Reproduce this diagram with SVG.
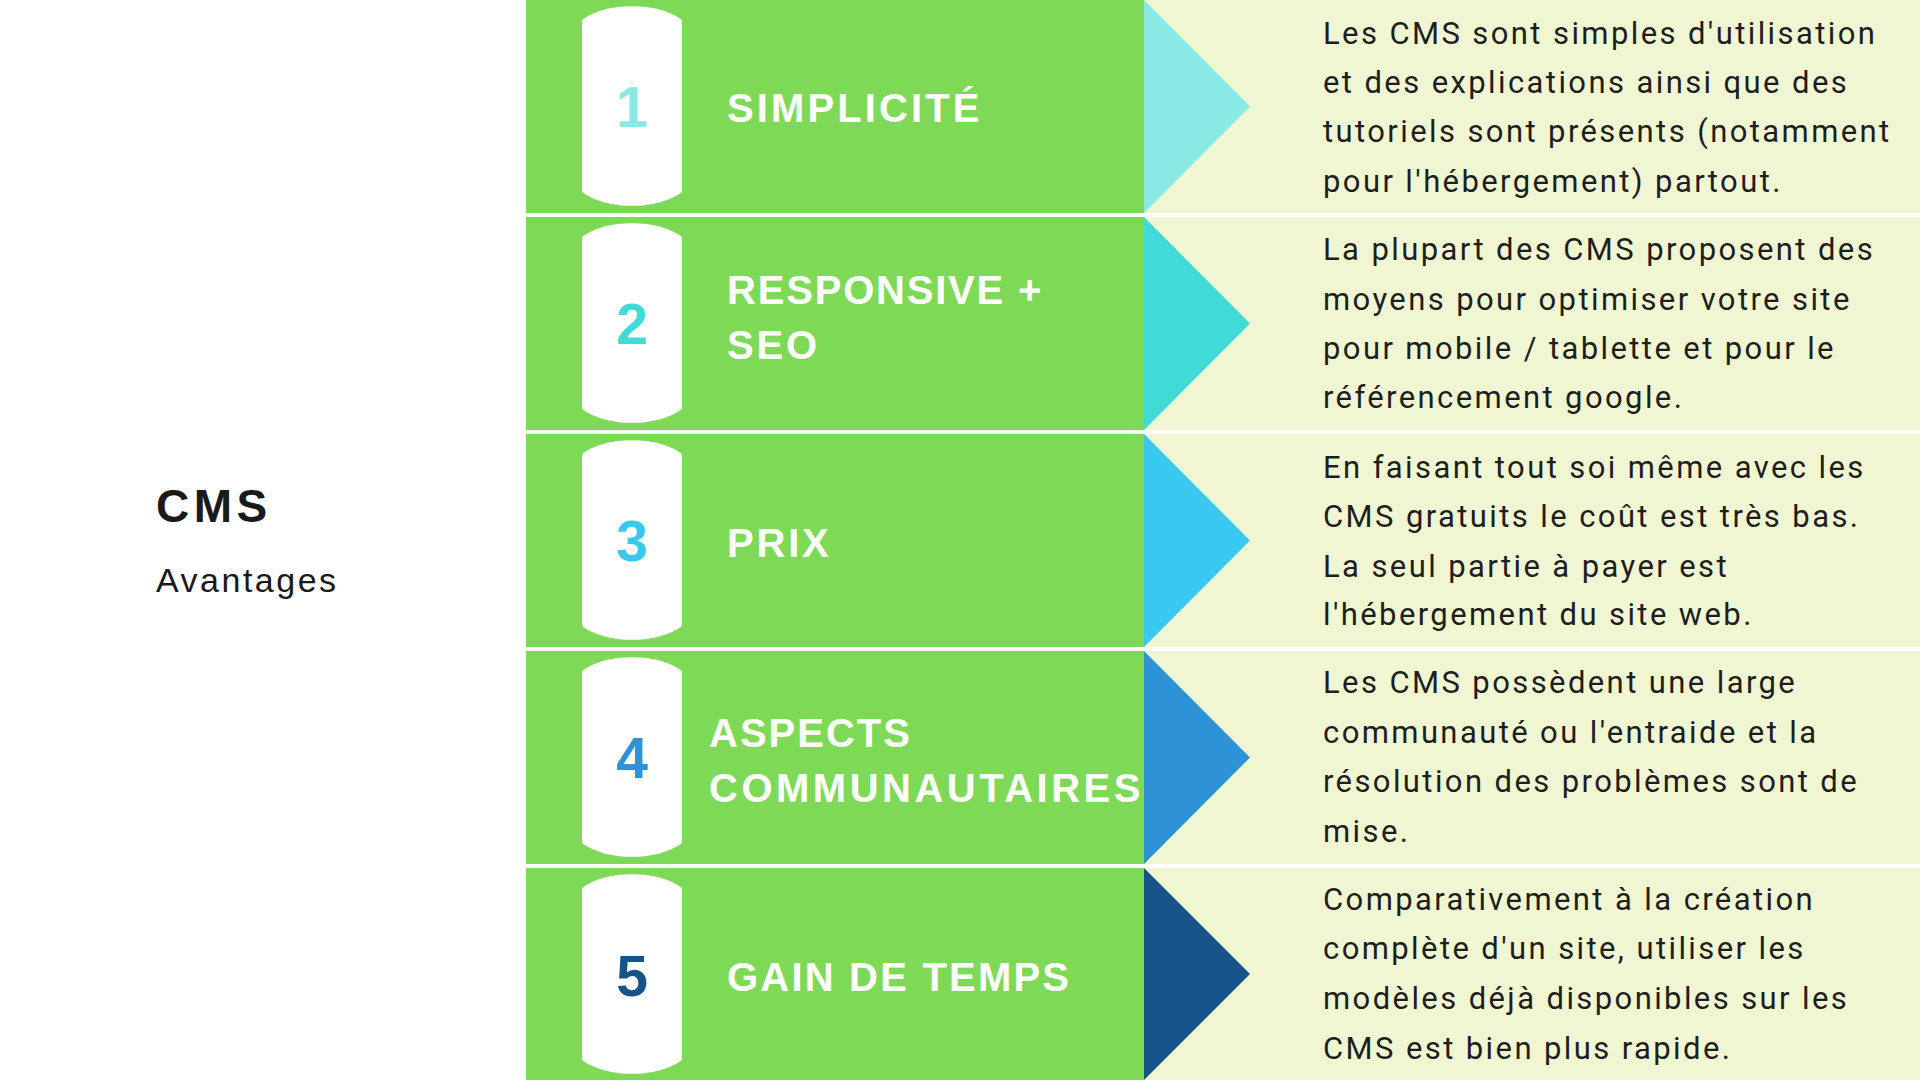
<svg xmlns="http://www.w3.org/2000/svg" width="1920" height="1080" viewBox="0 0 1920 1080">
<defs>
<style>
.green{fill:#7ED957}
.panel{fill:#F0F6D2}
.pill{fill:#FFFFFF}
.num{font-family:"Liberation Sans",Arial,sans-serif;font-weight:bold;font-size:57px;text-anchor:middle}
.lab{font-family:"Liberation Sans",Arial,sans-serif;font-weight:bold;font-size:40px;fill:#FFFFFF;letter-spacing:2.8px}
.desc{font-family:Roboto,"Liberation Sans",sans-serif;font-size:31px;fill:#1E1E1E;letter-spacing:2.4px}
.title{font-family:"Liberation Sans",Arial,sans-serif;font-weight:bold;font-size:46px;fill:#1A1A1A;letter-spacing:4.5px}
.sub{font-family:"Liberation Sans",Arial,sans-serif;font-size:34px;fill:#1A1A1A;letter-spacing:2.5px}
</style>
<path id="pillShape" d="M582,20 A60,31 0 0 1 682,20 L682,192 A60,31 0 0 1 582,192 Z"/>
</defs>
<rect x="0" y="0" width="1920" height="1080" fill="#FFFFFF"/>

<g id="heading">
<text class="title" x="156" y="522">CMS</text>
<text class="sub" x="156" y="592">Avantages</text>
</g>

<g id="row1">
<rect class="green" x="526" y="0" width="618" height="213"/>
<rect class="panel" x="1144" y="0" width="776" height="213"/>
<polygon points="1144,0 1250,106.5 1144,213" fill="#88E9E5"/>
<use href="#pillShape" class="pill" transform="translate(0,0)"/>
<text class="num" x="632" y="127" fill="#88E9E5">1</text>
<text class="lab" x="727" y="122" style="letter-spacing:3.1px">SIMPLICITÉ</text>
<text class="desc" x="1323" y="44">Les CMS sont simples d'utilisation</text>
<text class="desc" x="1323" y="93">et des explications ainsi que des</text>
<text class="desc" x="1323" y="142">tutoriels sont présents (notamment</text>
<text class="desc" x="1323" y="192">pour l'hébergement) partout.</text>
</g>

<g id="row2">
<rect class="green" x="526" y="217" width="618" height="213"/>
<rect class="panel" x="1144" y="217" width="776" height="213"/>
<polygon points="1144,217 1250,323.5 1144,430" fill="#40DBD7"/>
<use href="#pillShape" class="pill" transform="translate(0,217)"/>
<text class="num" x="632" y="344" fill="#40DBD7">2</text>
<text class="lab" x="727" y="304" style="letter-spacing:1.8px">RESPONSIVE +</text>
<text class="lab" x="727" y="359">SEO</text>
<text class="desc" x="1323" y="260">La plupart des CMS proposent des</text>
<text class="desc" x="1323" y="310">moyens pour optimiser votre site</text>
<text class="desc" x="1323" y="359">pour mobile / tablette et pour le</text>
<text class="desc" x="1323" y="408">référencement google.</text>
</g>

<g id="row3">
<rect class="green" x="526" y="434" width="618" height="213"/>
<rect class="panel" x="1144" y="434" width="776" height="213"/>
<polygon points="1144,434 1250,540.5 1144,647" fill="#38C8F0"/>
<use href="#pillShape" class="pill" transform="translate(0,434)"/>
<text class="num" x="632" y="561" fill="#38C8F0">3</text>
<text class="lab" x="727" y="557">PRIX</text>
<text class="desc" x="1323" y="478">En faisant tout soi même avec les</text>
<text class="desc" x="1323" y="527">CMS gratuits le coût est très bas.</text>
<text class="desc" x="1323" y="577">La seul partie à payer est</text>
<text class="desc" x="1323" y="625">l'hébergement du site web.</text>
</g>

<g id="row4">
<rect class="green" x="526" y="651" width="618" height="213"/>
<rect class="panel" x="1144" y="651" width="776" height="213"/>
<polygon points="1144,651 1250,757.5 1144,864" fill="#2E93D6"/>
<use href="#pillShape" class="pill" transform="translate(0,651)"/>
<text class="num" x="632" y="778" fill="#2E93D6">4</text>
<text class="lab" x="709" y="747" style="letter-spacing:2px">ASPECTS</text>
<text class="lab" x="709" y="802" style="letter-spacing:3.5px">COMMUNAUTAIRES</text>
<text class="desc" x="1323" y="693">Les CMS possèdent une large</text>
<text class="desc" x="1323" y="743">communauté ou l'entraide et la</text>
<text class="desc" x="1323" y="792">résolution des problèmes sont de</text>
<text class="desc" x="1323" y="842">mise.</text>
</g>

<g id="row5">
<rect class="green" x="526" y="868" width="618" height="212"/>
<rect class="panel" x="1144" y="868" width="776" height="212"/>
<polygon points="1144,868 1250,974 1144,1080" fill="#155388"/>
<use href="#pillShape" class="pill" transform="translate(0,868)"/>
<text class="num" x="632" y="996" fill="#155388">5</text>
<text class="lab" x="727" y="991" style="letter-spacing:2.2px">GAIN DE TEMPS</text>
<text class="desc" x="1323" y="910">Comparativement à la création</text>
<text class="desc" x="1323" y="959">complète d'un site, utiliser les</text>
<text class="desc" x="1323" y="1009">modèles déjà disponibles sur les</text>
<text class="desc" x="1323" y="1059">CMS est bien plus rapide.</text>
</g>

<g id="connectors"></g>
</svg>
